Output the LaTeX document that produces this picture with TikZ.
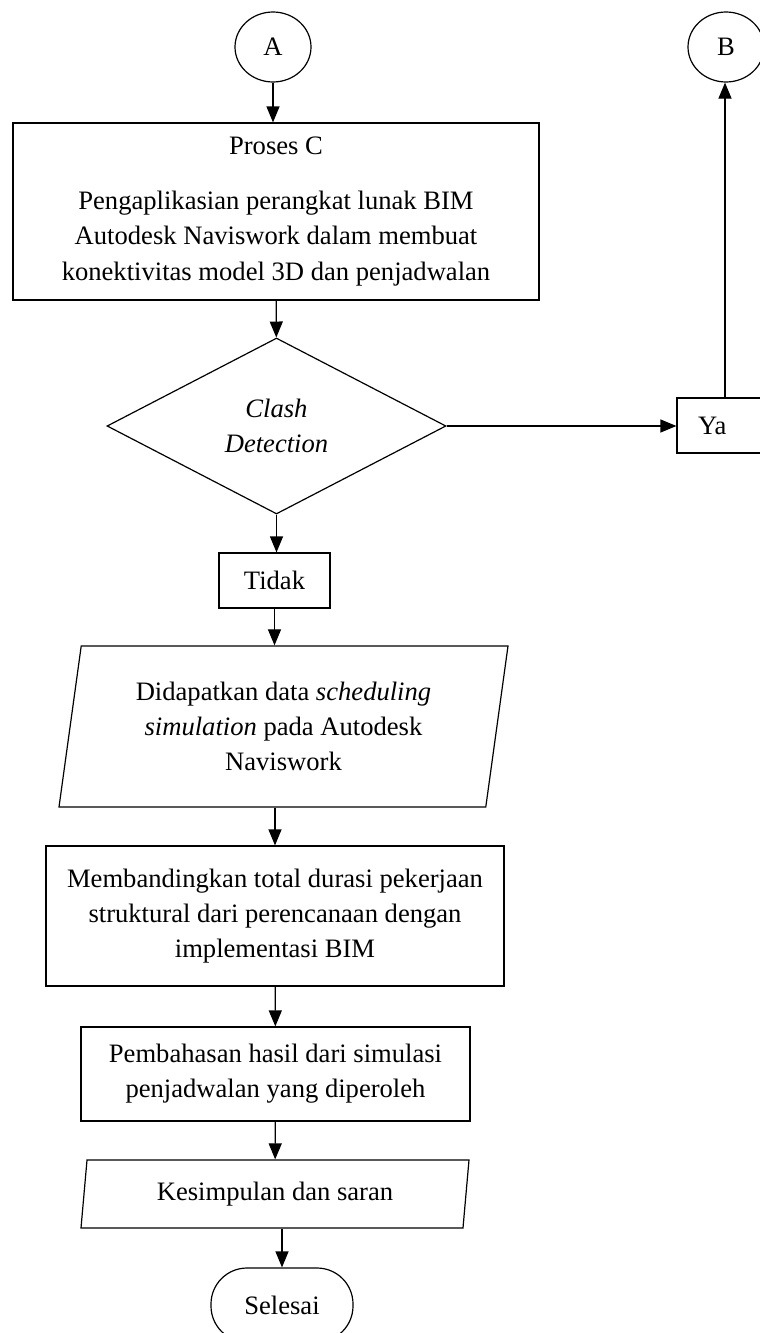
\documentclass[tikz,border=0pt]{standalone}
\usepackage{fontspec}
\setmainfont{Liberation Serif}
\usetikzlibrary{shapes.geometric,arrows.meta}
\begin{document}
\begin{tikzpicture}[x=0.5pt,y=-0.5pt,
	font=\fontsize{13.3pt}{17.6pt}\selectfont,
	line width=0.6pt,
	arr/.style={-{Triangle[length=8pt,width=6.5pt]}},
	konektor/.style={draw, ellipse, minimum width=38pt, minimum height=35pt, inner sep=0pt},
	prosesbox/.style={draw, rectangle, align=center, inner sep=0pt},
	datain/.style={draw, trapezium, trapezium left angle=76, trapezium right angle=104, trapezium stretches body=true, align=center, inner sep=0pt},
	keputusan/.style={draw, diamond, aspect=1.9, align=center, inner sep=0pt},
	akhir/.style={draw, rectangle, rounded corners=18pt, inner sep=0pt}]
	\useasboundingbox (0,0) rectangle (760,1333);

	\node[konektor] (A) at (273,47) {A};
	\node[konektor] (B) at (726,47) {B};
	\node[prosesbox, minimum width=263pt, minimum height=88.5pt] (proses) at (276,211.5) {Proses C\\[9.9pt]Pengaplikasian perangkat lunak BIM\\Autodesk Naviswork dalam membuat\\konektivitas model 3D dan penjadwalan};
	\node[keputusan, minimum width=169.5pt, minimum height=88pt] (clash) at (276.5,426) {\textit{Clash}\\\textit{Detection}};
	\node[prosesbox, minimum width=48pt, minimum height=27.5pt, text width=27pt, align=left, inner xsep=10.5pt] (ya) at (725,425.5) {Ya};
	\node[prosesbox, minimum width=55.5pt, minimum height=27.5pt] (tidak) at (274.5,580.5) {Tidak};
	\node[datain, minimum width=224.5pt, minimum height=80.5pt] (data) at (283.5,726.5) {Didapatkan data \textit{scheduling}\\\textit{simulation} pada Autodesk\\Naviswork};
	\node[prosesbox, minimum width=229pt, minimum height=70pt] (banding) at (275,916) {Membandingkan total durasi pekerjaan\\struktural dari perencanaan dengan\\implementasi BIM};
	\node[prosesbox, minimum width=194.5pt, minimum height=47pt] (bahas) at (275.5,1074) {Pembahasan hasil dari simulasi\\penjadwalan yang diperoleh};
	\node[datain, minimum width=194pt, minimum height=34pt] (simpul) at (275,1194) {Kesimpulan dan saran};
	\node[akhir, minimum width=71pt, minimum height=37pt] (selesai) at (282,1305) {Selesai};

	\draw[arr] (A.south) -- (A.south |- proses.north);
	\draw[arr] (proses) -- (clash);
	\draw[arr] (clash.east) -- (clash.east -| ya.west);
	\draw[arr] (ya.north) -- (ya.north |- B.south);
	\draw[arr] (clash.south) -- (clash.south |- tidak.north);
	\draw[arr] (tidak.south) -- (tidak.south |- data.north);
	\draw[arr] (banding.north |- data.south) -- (banding.north);
	\draw[arr] (banding) -- (bahas);
	\draw[arr] (bahas) -- (simpul);
	\draw[arr] (selesai.north |- simpul.south) -- (selesai.north);
\end{tikzpicture}
\end{document}
